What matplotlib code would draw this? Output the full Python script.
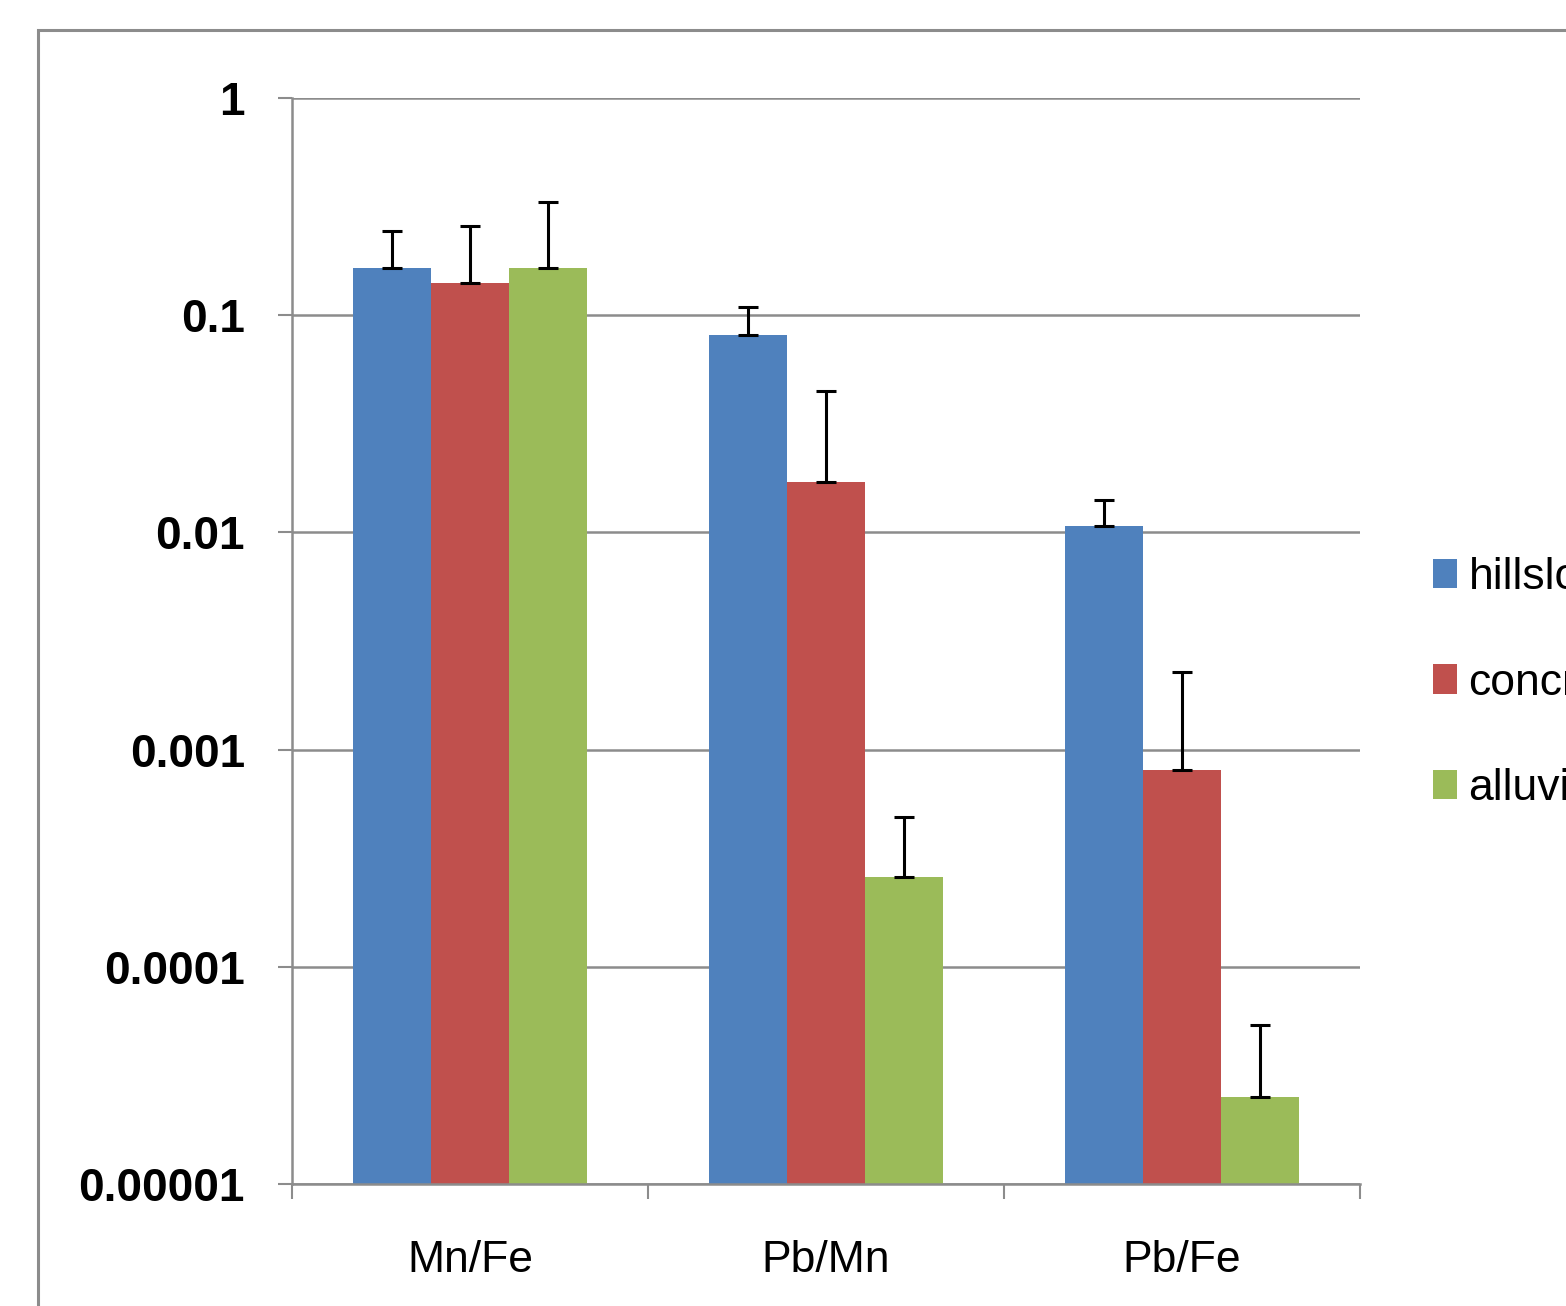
import matplotlib
matplotlib.use("Agg")
import matplotlib.pyplot as plt
import numpy as np
from matplotlib.patches import Rectangle

# ratios and sample groups
ratios = ["Mn/Fe", "Pb/Mn", "Pb/Fe"]
groups = ["hillslope", "concretions", "alluvium"]
colors = ["#4F81BD", "#C0504D", "#9BBB59"]

# mean values per group (same order as ratios)
hillslope = [0.165, 0.081, 0.0107]
concretions = [0.141, 0.0171, 0.000805]
alluvium = [0.165, 0.000259, 0.0000252]

# upper ends of the error bars
hillslope_hi = [0.244, 0.109, 0.0141]
concretions_hi = [0.257, 0.0448, 0.00228]
alluvium_hi = [0.332, 0.00049, 0.000054]

means = [hillslope, concretions, alluvium]
uppers = [hillslope_hi, concretions_hi, alluvium_hi]

plt.rcParams['font.family'] = ['Liberation Sans', 'DejaVu Sans']

W, H = 1566, 1306
fig = plt.figure(figsize=(W / 100, H / 100), dpi=100)

# outer chart frame, runs off the right and bottom edges
fig.patches.append(Rectangle((38 / W, -0.1), 1.2, 1 - 30 / H + 0.1,
                             transform=fig.transFigure, fill=False,
                             edgecolor="#8c8c8c", linewidth=2.2))

ax = fig.add_axes([292 / W, 1 - 1184 / H, (1360 - 292) / W, (1184 - 98) / H])

grey = "#8c8c8c"
x = np.arange(len(ratios))
width = 0.22
for i, (vals, hi) in enumerate(zip(means, uppers)):
    pos = x + (i - 1) * width
    vals = np.array(vals)
    hi = np.array(hi)
    ax.bar(pos, vals, width, color=colors[i], label=groups[i], log=True, zorder=2)
    ax.errorbar(pos, vals, yerr=[np.zeros_like(vals), hi - vals], fmt="none",
                ecolor="black", elinewidth=2.2, capsize=7.5, capthick=2.2, zorder=3)

ax.set_yscale("log")
ax.set_ylim(1e-5, 1)
ax.set_xlim(-0.5, 2.5)
yt = [1e-5, 1e-4, 1e-3, 1e-2, 1e-1, 1]
ax.set_yticks(yt)
ax.set_yticklabels(["0.00001", "0.0001", "0.001", "0.01", "0.1", "1"],
                   fontsize=33, fontweight="bold")
ax.yaxis.set_minor_locator(matplotlib.ticker.NullLocator())
ax.grid(axis="y", color=grey, linewidth=1.8, zorder=0)
ax.tick_params(axis="y", length=10, width=1.5, color=grey, pad=24)

ax.set_xticks([-0.5, 0.5, 1.5, 2.5])
ax.set_xticklabels([])
ax.set_xticks(x, minor=True)
ax.set_xticklabels(ratios, minor=True, fontsize=32)
ax.tick_params(axis="x", which="major", length=11, width=1.5, color=grey)
ax.tick_params(axis="x", which="minor", length=0, pad=40)

for side in ["top", "right"]:
    ax.spines[side].set_visible(False)
for side in ["left", "bottom"]:
    ax.spines[side].set_color(grey)
    ax.spines[side].set_linewidth(1.8)

ax.legend(loc="center left", bbox_to_anchor=(1433 / W, 1 - 683 / H),
          bbox_transform=fig.transFigure, frameon=False, fontsize=32,
          borderpad=0, borderaxespad=0,
          handlelength=0.55, handleheight=0.65, handletextpad=0.25,
          labelspacing=1.45)

fig.savefig("out.png", dpi=100)
